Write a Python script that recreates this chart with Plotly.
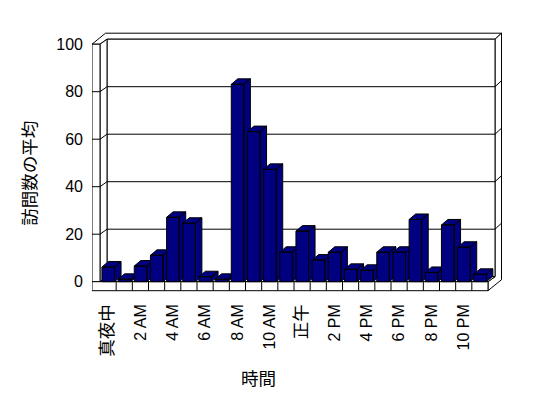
import plotly.graph_objects as go

# ---------------- data ----------------
hours = ["真夜中", "1 AM", "2 AM", "3 AM", "4 AM", "5 AM", "6 AM", "7 AM",
         "8 AM", "9 AM", "10 AM", "11 AM", "正午", "1 PM", "2 PM", "3 PM",
         "4 PM", "5 PM", "6 PM", "7 PM", "8 PM", "9 PM", "10 PM", "11 PM"]
visits = [6.2, 1.0, 6.6, 11.1, 27.1, 24.6, 2.1, 1.0, 83.1, 63.2, 47.3, 12.4,
          21.3, 9.1, 12.4, 5.2, 4.8, 12.4, 12.4, 26.2, 3.9, 23.9, 14.5, 3.1]
y_ticks = [0, 20, 40, 60, 80, 100]
x_title = "時間"
y_title = "訪問数の平均"

# ---------------- geometry (layout only) ----------------
W, H = 548, 398
N = len(hours)
X0, X1 = 100.0, 488.0      # pixel x of front plane edges
Y0, Y100 = 281.7, 44.2     # pixel y of value 0 and 100 on front plane
PXU = (X1 - X0) / N
PYV = (Y0 - Y100) / 100.0
ML, MR, MT, MB = 92, 46, 28, 104
PW, PH = W - ML - MR, H - MT - MB


def u(px):
    return (px - X0) / PXU


def v(py):
    return (Y0 - py) / PYV


def paper_x(px):
    return (px - ML) / PW


def paper_y(py):
    return (H - MB - py) / PH


xr = [u(ML), u(W - MR)]
yr = [v(H - MB), v(MT)]

DU, DV = 7 / PXU, 5 / PYV        # depth of floor / walls
TU, TV = 6.5 / PXU, 6 / PYV      # back wall thickness
LW = 8 / PXU                      # left wall thickness
FT = 9 / PYV                      # floor thickness
BA, BB = 0.12, 0.90               # bar front face within category
BDU, BDV = 6.5 / PXU, 5.5 / PYV   # bar depth
VMAX = y_ticks[-1]
NAVY = "#000080"

CJK = "Noto Sans CJK JP"
LAT = "Liberation Sans, Noto Sans CJK JP"


def path(pts):
    return "M " + " L ".join(f"{x},{y}" for x, y in pts) + " Z"


shapes = []


def poly(pts, fill="white"):
    shapes.append(dict(type="path", path=path(pts), xref="x", yref="y",
                       fillcolor=fill, line=dict(color="black", width=1),
                       layer="below"))


def line(x0, y0, x1, y1):
    shapes.append(dict(type="line", x0=x0, y0=y0, x1=x1, y1=y1, xref="x",
                       yref="y", line=dict(color="black", width=1),
                       layer="below"))


# top frame (left wall + back wall tops)
poly([(-LW, VMAX), (0, VMAX), (DU, VMAX + DV), (N + DU, VMAX + DV),
      (N + DU + TU, VMAX + DV + TV), (-LW + DU + TU, VMAX + DV + TV)])
# right outer face (floor side + back wall side)
poly([(N, 0), (N, -FT), (N + DU + TU, -FT + DV + TV),
      (N + DU + TU, VMAX + DV + TV), (N + DU, VMAX + DV), (N + DU, DV)])
# back wall inner face
poly([(DU, DV), (N + DU, DV), (N + DU, VMAX + DV), (DU, VMAX + DV)])
# left wall inner face
poly([(0, 0), (0, VMAX), (DU, VMAX + DV), (DU, DV)])
# floor top
poly([(0, 0), (N, 0), (N + DU, DV), (DU, DV)])
# left wall front face
poly([(-LW, 0), (0, 0), (0, VMAX), (-LW, VMAX)])
# floor front face
poly([(-LW, -FT), (N, -FT), (N, 0), (-LW, 0)])
for i in range(1, N):
    line(i, -FT, i, 0)
# gridlines
for t in y_ticks[1:-1]:
    line(-LW, t, 0, t)
    line(0, t, DU, t + DV)
    line(DU, t + DV, N + DU, t + DV)
    line(N + DU, t + DV, N + DU + TU, t + DV + TV)

fig = go.Figure()

# bars: front, side and top faces
for i, val in enumerate(visits):
    a, b = i + BA, i + BB
    xs = [a, b, b, a, a, None,
          b, b + BDU, b + BDU, b, b, None,
          a, b, b + BDU, a + BDU, a]
    ys = [0, 0, val, val, 0, None,
          0, BDV, val + BDV, val, 0, None,
          val, val, val + BDV, val + BDV, val]
    fig.add_trace(go.Scatter(x=xs, y=ys, mode="lines", fill="toself",
                             fillcolor=NAVY, line=dict(color="black", width=1),
                             name=hours[i], hoverinfo="skip", showlegend=False))


def lab(t):
    if any(ord(c) > 0x2000 for c in t):
        return f"<span style='font-size:17.5px;font-family:{CJK}'>{t}</span>"
    return t


tick_idx = list(range(0, N, 2))
fig.update_layout(
    width=W, height=H, margin=dict(l=ML, r=MR, t=MT, b=MB, pad=0),
    paper_bgcolor="white", plot_bgcolor="white", showlegend=False,
    shapes=shapes,
    xaxis=dict(range=xr, showgrid=False, zeroline=False, showline=False,
               ticks="", tickvals=[i + 0.5 for i in tick_idx],
               ticktext=[lab(hours[i]) for i in tick_idx], tickangle=-90,
               tickfont=dict(family=LAT, size=16, color="black"),
               ticklabelstandoff=6, fixedrange=True),
    yaxis=dict(range=yr, showgrid=False, zeroline=False, showline=False,
               ticks="", tickvals=y_ticks, ticktext=[str(t) for t in y_ticks],
               tickfont=dict(family=LAT, size=16, color="black"),
               ticklabelstandoff=8, fixedrange=True),
    annotations=[
        dict(text=x_title, x=paper_x(258.3), y=paper_y(377.5),
             xref="paper", yref="paper",
             showarrow=False, font=dict(family=CJK, size=17.5, color="black"),
             xanchor="center", yanchor="middle"),
        dict(text=y_title, x=paper_x(29), y=paper_y(173.7),
             xref="paper", yref="paper",
             showarrow=False, textangle=-90,
             font=dict(family=CJK, size=17.5, color="black"),
             xanchor="center", yanchor="middle"),
    ],
)

fig.write_html("out.html")
